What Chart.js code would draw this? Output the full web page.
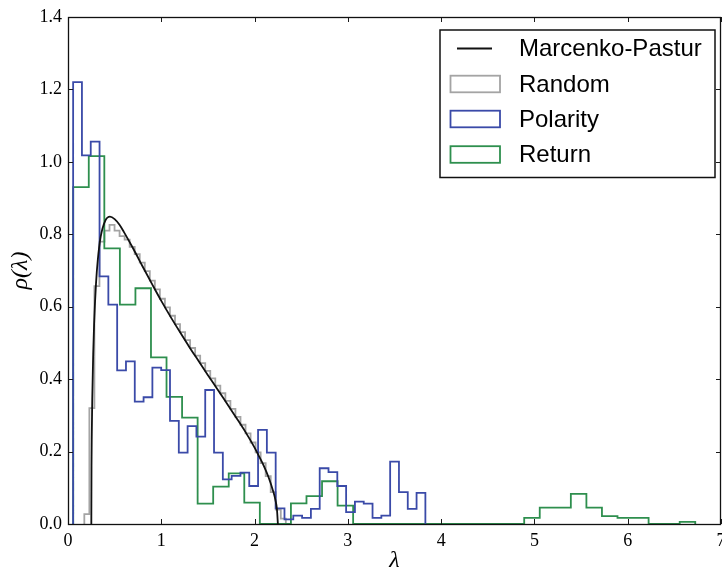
<!DOCTYPE html>
<html>
<head>
<meta charset="utf-8">
<script src="https://cdn.jsdelivr.net/npm/chart.js@4.4.1/dist/chart.umd.min.js"></script>
<style>
  html, body { margin: 0; padding: 0; background: #ffffff; }
  #wrap { width: 722px; height: 573px; position: relative; }
</style>
</head>
<body>
<div id="wrap"><canvas id="c" width="722" height="573"></canvas></div>
<script>
// ---------------- data ----------------
const seriesLabels = ['Marcenko-Pastur', 'Random', 'Polarity', 'Return'];

const mpLambda = [0.25, 0.252, 0.255, 0.26, 0.27, 0.28, 0.30, 0.32, 0.35, 0.40, 0.45, 0.50, 0.55, 0.60,
                  0.70, 0.80, 0.90, 1.00, 1.10, 1.20, 1.30, 1.40, 1.50, 1.60, 1.70, 1.80, 1.90, 2.00,
                  2.05, 2.10, 2.15, 2.20, 2.22, 2.24, 2.25];
const mpRho    = [0.000, 0.160, 0.249, 0.345, 0.469, 0.553, 0.663, 0.731, 0.793, 0.838, 0.849, 0.842, 0.827, 0.806,
                  0.760, 0.711, 0.663, 0.616, 0.572, 0.530, 0.489, 0.450, 0.411, 0.373, 0.334, 0.295, 0.255, 0.211,
                  0.186, 0.160, 0.129, 0.090, 0.070, 0.040, 0.000];

// Random: 40 bins
const randomBinStart = 0.175;
const randomBinWidth = 0.054;
const randomDensity = [0.027, 0.320, 0.657, 0.780, 0.810, 0.826, 0.810, 0.795, 0.785, 0.765,
                       0.745, 0.722, 0.698, 0.672, 0.648, 0.622, 0.598, 0.575, 0.552, 0.530,
                       0.508, 0.486, 0.465, 0.444, 0.423, 0.402, 0.382, 0.361, 0.340, 0.318,
                       0.296, 0.274, 0.250, 0.225, 0.198, 0.168, 0.132, 0.088, 0.040, 0.015];

// Polarity: 40 bins
const polarityBinStart = 0.055;
const polarityBinWidth = 0.0944;
const polarityDensity = [1.220, 1.018, 1.056, 0.684, 0.606, 0.424, 0.449, 0.338, 0.350, 0.432,
                         0.425, 0.285, 0.197, 0.270, 0.241, 0.370, 0.197, 0.123, 0.133, 0.142,
                         0.105, 0.260, 0.197, 0.043, 0.013, 0.023, 0.017, 0.042, 0.154, 0.143,
                         0.105, 0.033, 0.062, 0.056, 0.017, 0.023, 0.172, 0.088, 0.042, 0.086];

// Return: 40 bins
const returnBinStart = 0.056;
const returnBinWidth = 0.1667;
const returnDensity = [0.930, 1.016, 0.761, 0.606, 0.651, 0.460, 0.351, 0.294, 0.056, 0.103,
                       0.140, 0.059, 0.000, 0.000, 0.057, 0.077, 0.118, 0.051, 0.000, 0.000,
                       0.000, 0.000, 0.000, 0.000, 0.000, 0.000, 0.000, 0.000, 0.000, 0.017,
                       0.045, 0.045, 0.083, 0.045, 0.022, 0.017, 0.017, 0.000, 0.000, 0.006];

const xTicks = [0, 1, 2, 3, 4, 5, 6, 7];
const yTicks = [0.0, 0.2, 0.4, 0.6, 0.8, 1.0, 1.2, 1.4];

// ---------------- helpers ----------------
function histOutline(start, width, values) {
  const pts = [{x: start, y: 0}];
  values.forEach((v, i) => pts.push({x: start + i * width, y: v}));
  pts.push({x: start + values.length * width, y: 0});
  return pts;
}
const mpPoints = mpLambda.map((l, i) => ({x: l, y: mpRho[i]}));

const colors = {
  mp: '#111111',
  random: '#a4a4a4',
  polarity: '#3a4aa8',
  ret: '#2e8f4e'
};

const frameAndLegend = {
  id: 'frameAndLegend',
  afterDatasetsDraw(chart) {
    const {ctx, chartArea: a, scales: {x, y}} = chart;
    ctx.save();
    ctx.strokeStyle = '#1a1a1a';
    ctx.lineWidth = 1;
    ctx.beginPath();
    const tl = 5;
    xTicks.forEach(v => {
      const px = Math.round(x.getPixelForValue(v)) + 0.5;
      ctx.moveTo(px, a.bottom); ctx.lineTo(px, a.bottom - tl);
      ctx.moveTo(px, a.top); ctx.lineTo(px, a.top + tl);
    });
    yTicks.forEach(v => {
      const py = Math.round(y.getPixelForValue(v)) + 0.5;
      ctx.moveTo(a.left, py); ctx.lineTo(a.left + tl, py);
      ctx.moveTo(a.right, py); ctx.lineTo(a.right - tl, py);
    });
    ctx.stroke();
    ctx.lineWidth = 1.3;
    ctx.strokeStyle = '#111111';
    ctx.strokeRect(Math.round(a.left) + 0.5, Math.round(a.top) + 0.5,
                   Math.round(a.right - a.left) - 1, Math.round(a.bottom - a.top));
    ctx.restore();
  },
  afterDraw(chart) {
    const ctx = chart.ctx;
    ctx.save();
    // legend frame
    const box = {l: 440, t: 30, r: 715, b: 177.5};
    ctx.fillStyle = '#ffffff';
    ctx.fillRect(box.l, box.t, box.r - box.l, box.b - box.t);
    ctx.strokeStyle = '#111111';
    ctx.lineWidth = 1.5;
    ctx.strokeRect(box.l, box.t, box.r - box.l, box.b - box.t);
    const rowY = [48.5, 84, 119, 154.5];
    ctx.font = '24px "Liberation Sans", Arial, sans-serif';
    ctx.textBaseline = 'middle';
    ctx.textAlign = 'left';
    seriesLabels.forEach((lab, i) => {
      const ds = chart.data.datasets.find(d => d.label === lab);
      const yy = rowY[i];
      ctx.strokeStyle = ds.borderColor;
      if (ds.legendKind === 'line') {
        ctx.lineWidth = 1.8;
        ctx.beginPath();
        ctx.moveTo(457, yy); ctx.lineTo(492, yy);
        ctx.stroke();
      } else {
        ctx.lineWidth = 1.8;
        ctx.strokeRect(450.5, yy - 8.3, 49.5, 16.6);
      }
      ctx.fillStyle = '#000000';
      ctx.fillText(lab, 519, yy + 1);
    });
    ctx.restore();
  }
};

Chart.defaults.color = '#000000';

new Chart(document.getElementById('c'), {
  type: 'line',
  data: {
    datasets: [
      { label: seriesLabels[0], legendKind: 'line', data: mpPoints, borderColor: colors.mp, borderWidth: 1.8,
        pointRadius: 0, cubicInterpolationMode: 'monotone', fill: false, order: 0 },
      { label: seriesLabels[1], legendKind: 'rect', data: histOutline(randomBinStart, randomBinWidth, randomDensity),
        borderColor: colors.random, borderWidth: 1.8, pointRadius: 0, stepped: true, fill: false, order: 3 },
      { label: seriesLabels[2], legendKind: 'rect', data: histOutline(polarityBinStart, polarityBinWidth, polarityDensity),
        borderColor: colors.polarity, borderWidth: 1.8, pointRadius: 0, stepped: true, fill: false, order: 1 },
      { label: seriesLabels[3], legendKind: 'rect', data: histOutline(returnBinStart, returnBinWidth, returnDensity),
        borderColor: colors.ret, borderWidth: 1.8, pointRadius: 0, stepped: true, fill: false, order: 2 }
    ]
  },
  options: {
    responsive: false,
    devicePixelRatio: 1,
    animation: false,
    events: [],
    layout: { padding: { left: 0, right: 1, top: 17, bottom: 0 } },
    plugins: { legend: { display: false }, tooltip: { enabled: false } },
    scales: {
      x: {
        type: 'linear', min: 0, max: 7,
        grid: { display: false, drawTicks: false },
        border: { display: false },
        ticks: { stepSize: 1, padding: 6, maxRotation: 0, autoSkip: false,
                 font: { family: '"Liberation Serif", "Times New Roman", serif', size: 18 },
                 callback: v => String(v) },
        title: { display: true, text: 'λ', padding: { top: 0, bottom: 0 },
                 font: { family: '"Liberation Serif", "Times New Roman", serif', size: 24, style: 'italic', lineHeight: 1 } },
        afterFit: s => { s.height = 49; s.paddingLeft = 0; s.paddingRight = 0; }
      },
      y: {
        type: 'linear', min: 0, max: 1.4,
        grid: { display: false, drawTicks: false },
        border: { display: false },
        ticks: { stepSize: 0.2, padding: 6, autoSkip: false,
                 font: { family: '"Liberation Serif", "Times New Roman", serif', size: 18 },
                 callback: v => Number(v).toFixed(1) },
        title: { display: true, text: 'ρ(λ)', padding: { top: 9, bottom: 0 },
                 font: { family: '"Liberation Serif", "Times New Roman", serif', size: 24, style: 'italic', lineHeight: 1 } },
        afterFit: s => { s.width = 68; s.paddingTop = 0; s.paddingBottom = 0; }
      }
    }
  },
  plugins: [frameAndLegend]
});
</script>
</body>
</html>
